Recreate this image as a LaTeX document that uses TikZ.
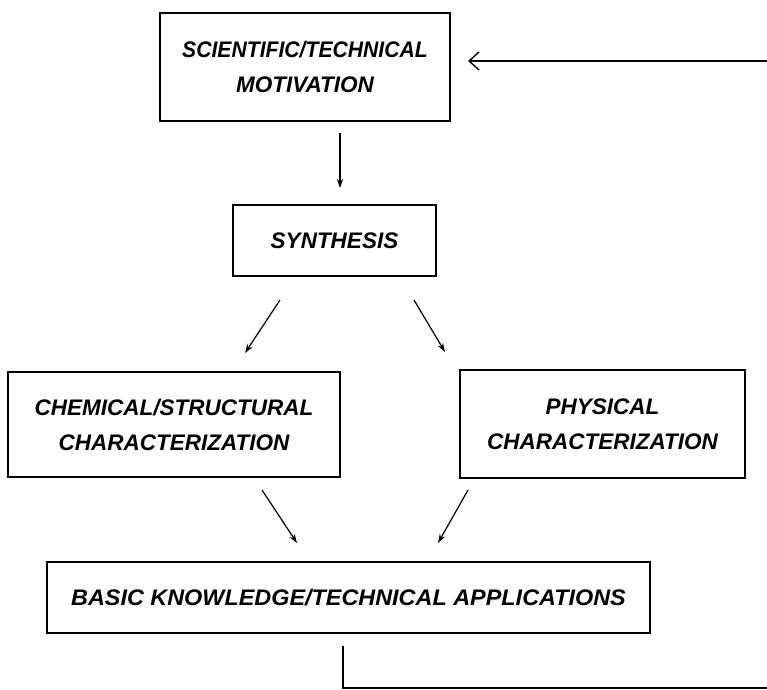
\documentclass[tikz,border=0pt]{standalone}
\usepackage{fontspec}
\setmainfont{Liberation Sans}
\usetikzlibrary{arrows.meta}
\begin{document}
\begin{tikzpicture}[x=1pt,y=-1pt,
  boxstyle/.style={draw, line width=1.8pt, inner sep=0pt, align=center,
    font=\fontsize{22.5}{35}\selectfont\bfseries\itshape},
  flow/.style={line width=1.2pt, -{Stealth[length=9pt,width=6pt]}},
  back/.style={line width=1.5pt, -{Straight Barb[length=10pt,width=18pt,line width=1.4pt]}},
  plain/.style={line width=1.3pt}]
\useasboundingbox (0,0) rectangle (767,689);
\clip (0,0) rectangle (767,689);
\node[boxstyle, minimum width=290pt, minimum height=108pt] (mot) at (305,67)
  {\scalebox{0.94}[1]{SCIENTIFIC/TECHNICAL}\\MOTIVATION};
\node[boxstyle, minimum width=203pt, minimum height=71pt] (syn) at (334.5,240.5)
  {SYNTHESIS};
\node[boxstyle, minimum width=332pt, minimum height=105pt] (chem) at (174,424.5)
  {CHEMICAL/STRUCTURAL\\CHARACTERIZATION};
\node[boxstyle, minimum width=285pt, minimum height=108pt] (phys) at (602.5,424)
  {PHYSICAL\\CHARACTERIZATION};
\node[boxstyle, minimum width=603pt, minimum height=71pt] (basic) at (348.5,597.5)
  {\scalebox{1.04}[1]{BASIC KNOWLEDGE/TECHNICAL APPLICATIONS}};
% arrows
\coordinate (a1s) at (340,133); \coordinate (a1e) at (340,188);
\draw[flow] (a1s) -- (a1e);
\coordinate (a2s) at (280,300); \coordinate (a2e) at (245,353);
\draw[flow] (a2s) -- (a2e);
\coordinate (a3s) at (414,300); \coordinate (a3e) at (445,352);
\draw[flow] (a3s) -- (a3e);
\coordinate (a4s) at (262,490); \coordinate (a4e) at (297,543);
\draw[flow] (a4s) -- (a4e);
\coordinate (a5s) at (468,490); \coordinate (a5e) at (438,543);
\draw[flow] (a5s) -- (a5e);
% feedback (runs off the right edge)
\coordinate (fb1) at (343,646);
\coordinate (fb2) at (343,688);
\coordinate (fb3) at (790,688);
\coordinate (fb4) at (790,61);
\coordinate (fb5) at (468,61);
\draw[plain] (fb1) -- (fb2) -- (fb3) -- (fb4);
\draw[back] (fb4) -- (fb5);
\end{tikzpicture}
\end{document}
